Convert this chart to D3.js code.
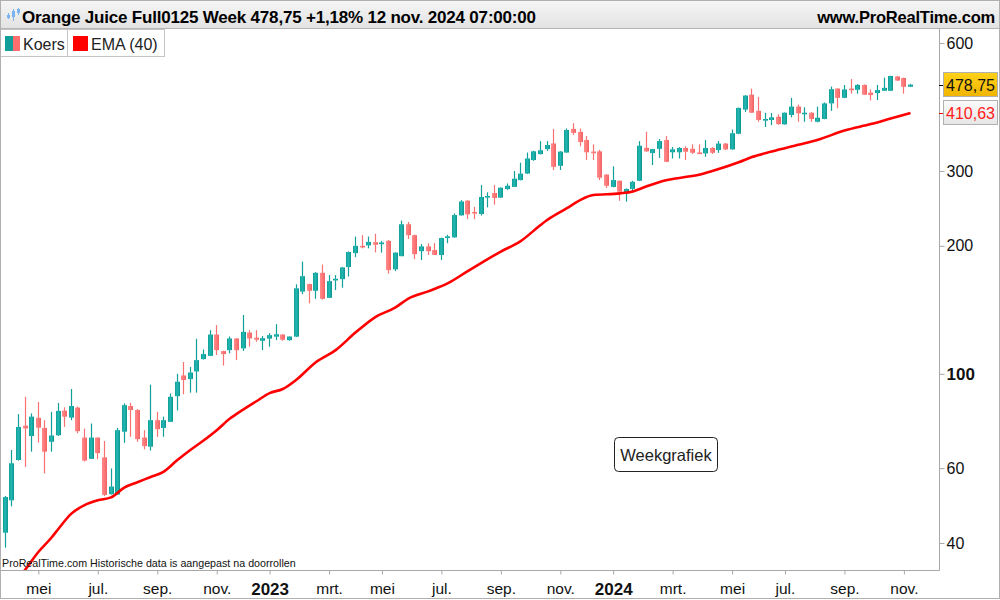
<!DOCTYPE html>
<html>
<head>
<meta charset="utf-8" />
<title>Orange Juice Full0125 Week</title>
<style>
  body { margin: 0; background: #fff; }
  svg text { font-family: "Liberation Sans", Arial, sans-serif; }
</style>
</head>
<body>
<script src="https://cdn.jsdelivr.net/npm/d3@7"></script>
<script>

// weekly candles, first week starts Mon 28 March 2022
var firstWeek = "2022-03-28";

var opens = [42.3,50.4,62.7,75.5,71.4,78.8,74.6,69.2,71.7,81.9,78.9,83.3,70.8,63.1,70.8,63.6,52.1,52.0,73.1,84.0,
  82.2,70.8,67.4,77.8,74.6,77.1,88.6,99.1,97.2,101.3,108.3,110.2,123.7,113.1,113.7,121.1,114.8,125.0,121.6,119.6,
  121.0,122.3,123.7,120.0,122.3,156.1,162.6,156.8,172.8,150.9,166.1,167.0,178.3,192.3,200.0,200.5,204.0,201.9,205.5,176.1,
  189.1,224.8,211.9,194.3,199.4,195.5,190.3,209.4,209.4,235.9,255.4,240.3,237.6,260.6,266.2,259.7,271.9,275.2,285.6,295.9,
  318.3,328.7,337.7,348.2,308.5,331.5,376.8,370.7,354.7,333.2,333.7,294.1,275.2,284.5,267.7,272.3,284.5,340.0,330.6,338.3,
  354.7,332.0,332.0,339.8,338.3,331.7,330.0,339.8,336.0,348.0,337.2,367.0,418.3,453.5,415.4,395.4,395.4,402.4,386.2,406.3,
  425.1,410.0,411.3,391.6,397.5,432.6,468.8,445.8,468.7,465.8,478.0,458.5,457.5,463.2,463.2,500.4,496.5,473.5];
var highs = [51.6,66.2,80.4,88.3,80.7,85.9,77.8,81.4,85.4,83.4,92.1,83.8,74.3,76.4,70.9,69.5,59.9,74.6,85.2,85.5,
  82.6,73.7,94.3,81.4,79.3,89.9,100.0,106.6,103.8,120.9,114.1,126.7,130.2,113.3,122.4,121.3,137.5,126.7,126.7,122.7,
  124.6,130.9,123.9,122.4,162.4,183.6,163.0,173.5,180.7,170.7,170.7,178.5,194.0,210.3,211.9,210.3,213.5,205.5,206.5,193.1,
  229.3,227.6,212.5,201.9,202.9,202.9,209.2,212.3,238.4,256.2,256.2,247.0,278.0,267.3,278.0,274.5,280.4,300.0,313.7,331.5,
  334.9,352.7,352.7,376.5,334.0,377.6,388.6,377.6,362.5,346.6,336.4,295.0,307.6,285.0,273.0,284.5,352.7,371.2,338.3,356.6,
  362.5,341.5,341.5,342.9,346.6,346.6,354.7,341.5,352.7,349.0,375.4,422.8,452.5,468.7,448.0,411.3,410.6,407.8,412.0,445.8,
  429.9,423.6,412.5,425.1,434.9,473.9,469.5,478.0,493.5,480.4,479.5,466.5,478.0,497.2,502.3,502.3,497.5,481.0];
var lows = [39.0,48.8,62.5,60.4,65.6,68.9,58.3,65.6,71.4,75.0,77.8,72.5,62.2,63.0,63.0,51.6,52.0,52.0,68.8,71.1,
  69.2,66.4,66.0,71.1,71.1,77.0,82.0,89.5,90.3,90.3,108.0,110.0,110.7,104.6,111.7,107.7,113.2,115.8,119.0,113.7,
  115.8,120.0,119.6,119.6,122.0,154.0,146.5,150.1,149.5,150.7,157.4,159.4,169.4,188.1,197.3,197.3,193.1,192.8,172.0,174.4,
  189.0,207.7,186.1,185.2,190.3,190.3,185.2,202.9,209.0,235.5,231.2,231.2,235.7,246.3,250.0,259.2,271.0,275.0,285.0,295.0,
  317.0,328.0,334.4,301.6,301.6,331.0,364.7,343.0,318.3,318.3,285.6,273.6,274.5,255.3,254.0,268.0,284.0,333.0,309.9,322.0,
  314.7,321.0,321.0,318.3,329.0,328.5,324.0,329.0,330.9,336.0,336.5,366.0,413.1,411.0,391.6,380.5,384.7,385.0,385.5,401.1,
  391.6,391.6,391.6,390.4,397.0,415.4,421.3,445.0,456.0,456.0,453.0,439.6,440.6,463.0,462.5,489.0,456.0,472.5];
var closes = [51.3,61.6,75.0,74.4,79.3,74.7,65.6,71.6,81.8,79.3,84.0,73.3,62.5,70.8,65.1,51.9,54.3,73.7,84.4,82.2,
  70.2,67.6,77.8,74.1,77.8,88.3,95.8,96.7,100.7,107.7,111.3,123.7,113.7,111.3,121.1,113.7,125.5,121.1,120.3,121.3,
  123.3,123.9,120.3,122.4,158.9,169.7,156.8,172.8,150.1,165.2,167.3,177.9,193.4,200.0,198.8,204.3,201.2,203.6,175.4,192.8,
  224.8,211.9,191.2,199.4,194.3,190.4,208.6,210.5,236.3,254.3,237.2,238.3,260.6,262.0,259.2,274.0,276.9,287.7,295.7,321.0,
  333.7,335.6,345.3,306.8,333.2,374.5,368.7,351.0,332.0,331.5,289.3,276.9,285.6,268.1,272.2,282.9,344.0,333.6,337.7,352.7,
  315.3,337.3,339.8,333.0,331.1,330.3,339.8,331.1,348.0,337.2,368.0,422.2,451.3,411.3,395.4,397.5,401.1,386.8,411.3,425.1,
  410.0,411.3,397.5,400.3,432.6,467.2,445.8,466.5,465.8,478.0,453.5,452.5,465.0,470.6,502.0,489.5,473.2,478.75];

// EMA (40) at some weeks
var emaWeeks = [0,3,5,7,8,10,12,14,16,18,20,22,24,26,28,30,32,34,36,38,40,42,44,47,50,53,56,59,61,64,67,70,75,78,81,82,85,87,89,93,95,97,100,102,105,107,111,113,116,120,123,127,131,134,137];
var emaValues = [30.5,34.6,38.1,41.2,43.1,46.9,49.1,50.4,51.2,54.0,55.6,57.2,58.9,62.6,66.2,69.7,73.7,78.5,82.4,86.2,90.1,92.1,96.7,106.5,113.7,125.0,136.0,143.1,150.3,156.3,163.4,174.4,193.9,205.2,223.8,230.0,245.3,256.2,263.3,265.7,268.6,275.7,285.2,288.9,294.1,300.0,314.5,323.5,333.3,345.7,355.3,373.5,386.9,398.6,410.63];

var yTicks = [40, 60, 100, 200, 300, 600];
var xTickDates = ["2022-05-02","2022-07-04","2022-09-05","2022-11-07","2023-01-02","2023-03-06","2023-05-01","2023-07-03",
  "2023-09-04","2023-11-06","2024-01-01","2024-03-04","2024-05-06","2024-07-01","2024-09-02","2024-11-04"];
var xTickLabels = ["mei","jul.","sep.","nov.","2023","mrt.","mei","jul.","sep.","nov.","2024","mrt.","mei","jul.","sep.","nov."];

var lastPrice = 478.75;
var lastEma = 410.63;

var width = 1000, height = 600;
var plot = {left: 0, right: 939, top: 29, bottom: 570};

var parse = d3.utcParse("%Y-%m-%d");
var start = parse(firstWeek);
var candles = closes.map(function(c, i){
    return {date: d3.utcWeek.offset(start, i), o: opens[i], h: highs[i], l: lows[i], c: c};
});

var svg = d3.select("body").append("svg")
    .attr("width", width)
    .attr("height", height);

var defs = svg.append("defs");
function grad(id, stops){
    var g = defs.append("linearGradient").attr("id", id)
        .attr("x1", "0%").attr("x2", "100%").attr("y1", "0%").attr("y2", "0%");
    stops.forEach(function(s){ g.append("stop").attr("offset", s[0]).attr("stop-color", s[1]); });
}
grad("gUp", [["0%","#0f9e98"],["45%","#25b8b2"],["100%","#0c948f"]]);
grad("gDown", [["0%","#ff8a8a"],["45%","#ff7b7b"],["100%","#ee6262"]]);
var hg = defs.append("linearGradient").attr("id","gHead").attr("x1","0%").attr("x2","0%").attr("y1","0%").attr("y2","100%");
hg.append("stop").attr("offset","0%").attr("stop-color","#f6f6f6");
hg.append("stop").attr("offset","100%").attr("stop-color","#e2e2e2");
var yg = defs.append("linearGradient").attr("id","gGold").attr("x1","0%").attr("x2","0%").attr("y1","0%").attr("y2","100%");
yg.append("stop").attr("offset","0%").attr("stop-color","#ffd21a");
yg.append("stop").attr("offset","100%").attr("stop-color","#f0b400");
var wg = defs.append("linearGradient").attr("id","gGrey").attr("x1","0%").attr("x2","0%").attr("y1","0%").attr("y2","100%");
wg.append("stop").attr("offset","0%").attr("stop-color","#fbfbfb");
wg.append("stop").attr("offset","100%").attr("stop-color","#e6e6e6");

defs.append("clipPath").attr("id", "plotClip")
    .append("rect")
    .attr("x", plot.left).attr("y", plot.top)
    .attr("width", plot.right - plot.left).attr("height", plot.bottom - plot.top);

var x = d3.scaleUtc()
    .domain([candles[0].date, candles[candles.length-1].date])
    .range([5.3, 910.5]);

var y = d3.scaleLog()
    .domain([40, 600])
    .range([543, 43]);

// header
svg.append("rect").attr("x",0).attr("y",0).attr("width",width).attr("height",plot.top)
    .attr("fill","url(#gHead)");
svg.append("line").attr("x1",0).attr("x2",width).attr("y1",plot.top-0.5).attr("y2",plot.top-0.5)
    .attr("stroke","#b4b4b4");

var icon = svg.append("g").attr("fill","#7ab4ee").attr("stroke","#7ab4ee");
[[8,13,19,15,18],[13,9,21,11,17],[18,8,15,9,13]].forEach(function(c){
    icon.append("line").attr("x1",c[0]+0.5).attr("x2",c[0]+0.5).attr("y1",c[1]).attr("y2",c[2]);
    icon.append("rect").attr("x",c[0]-1).attr("y",c[3]).attr("width",3).attr("height",c[4]-c[3]).attr("stroke","none");
});

svg.append("text").attr("x",22).attr("y",23)
    .style("font-weight","bold").style("font-size","17px").style("letter-spacing","-0.2px")
    .attr("fill","#000")
    .text("Orange Juice Full0125 Week 478,75 +1,18% 12 nov. 2024 07:00:00");
svg.append("text").attr("x",995).attr("y",23).attr("text-anchor","end")
    .style("font-weight","bold").style("font-size","16.5px").style("letter-spacing","-0.2px")
    .text("www.ProRealTime.com");

// plot
var plotG = svg.append("g").attr("clip-path","url(#plotClip)");

var candleG = plotG.append("g");
candleG.selectAll("g")
    .data(candles)
    .enter()
    .append("g")
    .each(function(d){
        var g = d3.select(this);
        var up = d.c >= d.o;
        var bx = Math.round(x(d.date) - 2.5);
        var top = y(Math.max(d.o, d.c)), bot = y(Math.min(d.o, d.c));
        g.append("line")
            .attr("x1", bx + 2.5).attr("x2", bx + 2.5)
            .attr("y1", y(d.h)).attr("y2", y(d.l))
            .attr("stroke", up ? "#13a09a" : "#f87272")
            .attr("stroke-width", 1.2);
        g.append("rect")
            .attr("x", bx).attr("width", 5)
            .attr("y", top).attr("height", Math.max(1.6, bot - top))
            .attr("fill", up ? "url(#gUp)" : "url(#gDown)");
    });

var emaLine = d3.line()
    .x(function(d){ return x(d3.utcWeek.offset(start, d[0])); })
    .y(function(d){ return y(d[1]); })
    .curve(d3.curveMonotoneX);

plotG.append("path")
    .datum(emaWeeks.map(function(w, i){ return [w, emaValues[i]]; }))
    .attr("fill","none")
    .attr("stroke","#ff0000")
    .attr("stroke-width",2.6)
    .attr("d", emaLine);

// frame lines of plot
svg.append("line").attr("x1",plot.right+0.5).attr("x2",plot.right+0.5)
    .attr("y1",plot.top).attr("y2",plot.bottom+0.5).attr("stroke","#a8a8a8");
svg.append("line").attr("x1",0).attr("x2",plot.right+0.5)
    .attr("y1",plot.bottom+0.5).attr("y2",plot.bottom+0.5).attr("stroke","#a8a8a8");

// y axis
var yAxis = d3.axisRight(y).tickValues(yTicks).tickSize(5).tickPadding(2)
    .tickFormat(function(d){ return d; });
var yAxisView = svg.append("g")
    .attr("transform","translate("+(plot.right+0.5)+",0)")
    .call(yAxis);
yAxisView.select(".domain").remove();
yAxisView.selectAll(".tick line").attr("stroke","#a8a8a8");
yAxisView.selectAll(".tick text")
    .attr("fill","#111")
    .style("font-family","'Liberation Sans', Arial, sans-serif")
    .style("font-size", function(d){ return d == 100 ? "17px" : "16px"; })
    .style("font-weight", function(d){ return d == 100 ? "bold" : "normal"; });

// x axis
var xAxis = d3.axisBottom(x)
    .tickValues(xTickDates.map(parse))
    .tickSize(4).tickPadding(8)
    .tickFormat(function(d, i){ return xTickLabels[i]; });
var xAxisView = svg.append("g")
    .attr("transform","translate(0,"+(plot.bottom+0.5)+")")
    .call(xAxis);
xAxisView.select(".domain").remove();
xAxisView.selectAll(".tick line").attr("stroke","#a8a8a8");
xAxisView.selectAll(".tick text")
    .attr("fill","#111")
    .style("font-family","'Liberation Sans', Arial, sans-serif")
    .style("font-size", function(d, i){ return /^\d{4}$/.test(xTickLabels[i]) ? "17px" : "15.5px"; })
    .style("font-weight", function(d, i){ return /^\d{4}$/.test(xTickLabels[i]) ? "bold" : "normal"; });

// last price / EMA boxes
function priceBox(v, fill, textColor, lineColor){
    var py = y(v);
    svg.append("line").attr("x1",plot.right).attr("x2",plot.right+5)
        .attr("y1",Math.round(py)+0.5).attr("y2",Math.round(py)+0.5).attr("stroke",lineColor);
    svg.append("rect").attr("x",943.5).attr("y",Math.round(py)-12.5)
        .attr("width",54).attr("height",24)
        .attr("fill",fill).attr("stroke","#b0b0b0");
    svg.append("text").attr("x",946).attr("y",Math.round(py)+6)
        .style("font-size","16px").attr("fill",textColor)
        .text(d3.format(".2f")(v).replace(".", ","));
}
priceBox(lastPrice, "url(#gGold)", "#111", "#000");
priceBox(lastEma, "url(#gGrey)", "#ff2020", "#ff0000");

// legend
var legend = svg.append("g");
legend.append("rect").attr("x",0.5).attr("y",29.5).attr("width",67).attr("height",27)
    .attr("fill","#fff").attr("stroke","#c4c4c4");
legend.append("rect").attr("x",67.5).attr("y",29.5).attr("width",97).attr("height",27)
    .attr("fill","#fff").attr("stroke","#c4c4c4");
legend.append("rect").attr("x",5).attr("y",36).attr("width",8).attr("height",15).attr("fill","#139f99");
legend.append("rect").attr("x",13).attr("y",36).attr("width",7).attr("height",15).attr("fill","#ff6e6e");
legend.append("rect").attr("x",73).attr("y",36).attr("width",15).attr("height",15).attr("fill","#ff0000");
legend.append("text").attr("x",23).attr("y",50).style("font-size","16px").attr("fill","#222").text("Koers");
legend.append("text").attr("x",91).attr("y",50).style("font-size","16px").attr("fill","#222").text("EMA (40)");

// period label
var wk = svg.append("g").attr("transform","translate(614.5,437.5)");
wk.append("rect").attr("width",103).attr("height",34).attr("rx",4).attr("ry",4)
    .attr("fill","#fff").attr("stroke","#222");
wk.append("text").attr("x",51.5).attr("y",23).attr("text-anchor","middle")
    .style("font-size","16.5px").attr("fill","#222").text("Weekgrafiek");

// footer note
svg.append("text").attr("x",2).attr("y",567)
    .style("font-size","10.7px").attr("fill","#111")
    .text("ProRealTime.com  Historische data is aangepast na doorrollen");

// outer border
svg.append("rect").attr("x",0.5).attr("y",0.5).attr("width",width-1).attr("height",height-2)
    .attr("fill","none").attr("stroke","#b0b0b0");

</script>
</body>
</html>
